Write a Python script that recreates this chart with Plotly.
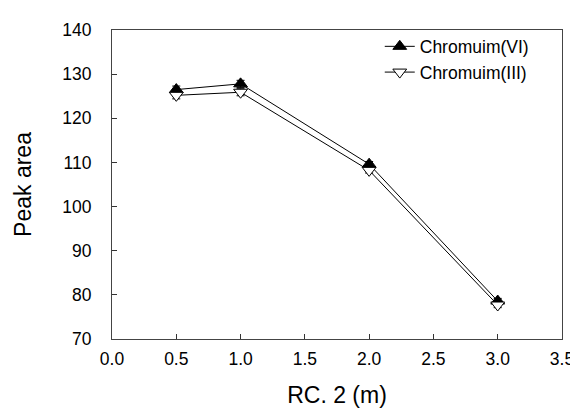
import plotly.graph_objects as go

x_vals = [0.5, 1.0, 2.0, 3.0]
cr6 = [126.5, 127.8, 109.6, 78.6]
cr3 = [125.2, 125.9, 108.2, 77.7]
err6 = [0.8, 0.8, 0.6, 0.6]
err3 = [0.8, 0.8, 0.6, 0.6]

fig = go.Figure()
fig.add_trace(go.Scatter(
    x=x_vals, y=cr6, name="Chromuim(VI)", mode="lines+markers",
    line=dict(color="black", width=1),
    marker=dict(symbol="triangle-up", size=12, color="black", line=dict(color="black", width=1)),
    error_y=dict(type="data", array=err6, color="black", thickness=1, width=4),
))
fig.add_trace(go.Scatter(
    x=x_vals, y=cr3, name="Chromuim(III)", mode="lines+markers",
    line=dict(color="black", width=1),
    marker=dict(symbol="triangle-down", size=12, color="white", line=dict(color="black", width=1)),
    error_y=dict(type="data", array=err3, color="black", thickness=1, width=4),
))

fig.update_layout(
    width=578, height=408,
    margin=dict(l=104, r=15, t=17, b=77),
    plot_bgcolor="white", paper_bgcolor="white",
    font=dict(family="Liberation Sans, Arial, sans-serif", size=17.5, color="black"),
    showlegend=True,
    legend=dict(x=0.595, y=1.005, xanchor="left", yanchor="top",
                bgcolor="rgba(0,0,0,0)", font=dict(size=17.5), tracegroupgap=0),
    xaxis=dict(range=[0, 3.5], tickvals=[0, 0.5, 1, 1.5, 2, 2.5, 3, 3.5],
               ticktext=["0.0", "0.5", "1.0", "1.5", "2.0", "2.5", "3.0", "3.5"],
               ticks="inside", ticklen=5, tickcolor="#333", showgrid=False, zeroline=False,
               showline=True, linecolor="#444", linewidth=1, mirror=True,
               ticklabelstandoff=4,
               title=dict(text="RC. 2 (m)", font=dict(size=23), standoff=18)),
    yaxis=dict(range=[70, 140], tickvals=[70, 80, 90, 100, 110, 120, 130, 140],
               ticks="inside", ticklen=5, tickcolor="#333", showgrid=False, zeroline=False,
               showline=True, linecolor="#444", linewidth=1, mirror=True,
               ticklabelstandoff=16,
               title=dict(text="Peak area", font=dict(size=23), standoff=24)),
)

fig.write_html("out.html")
